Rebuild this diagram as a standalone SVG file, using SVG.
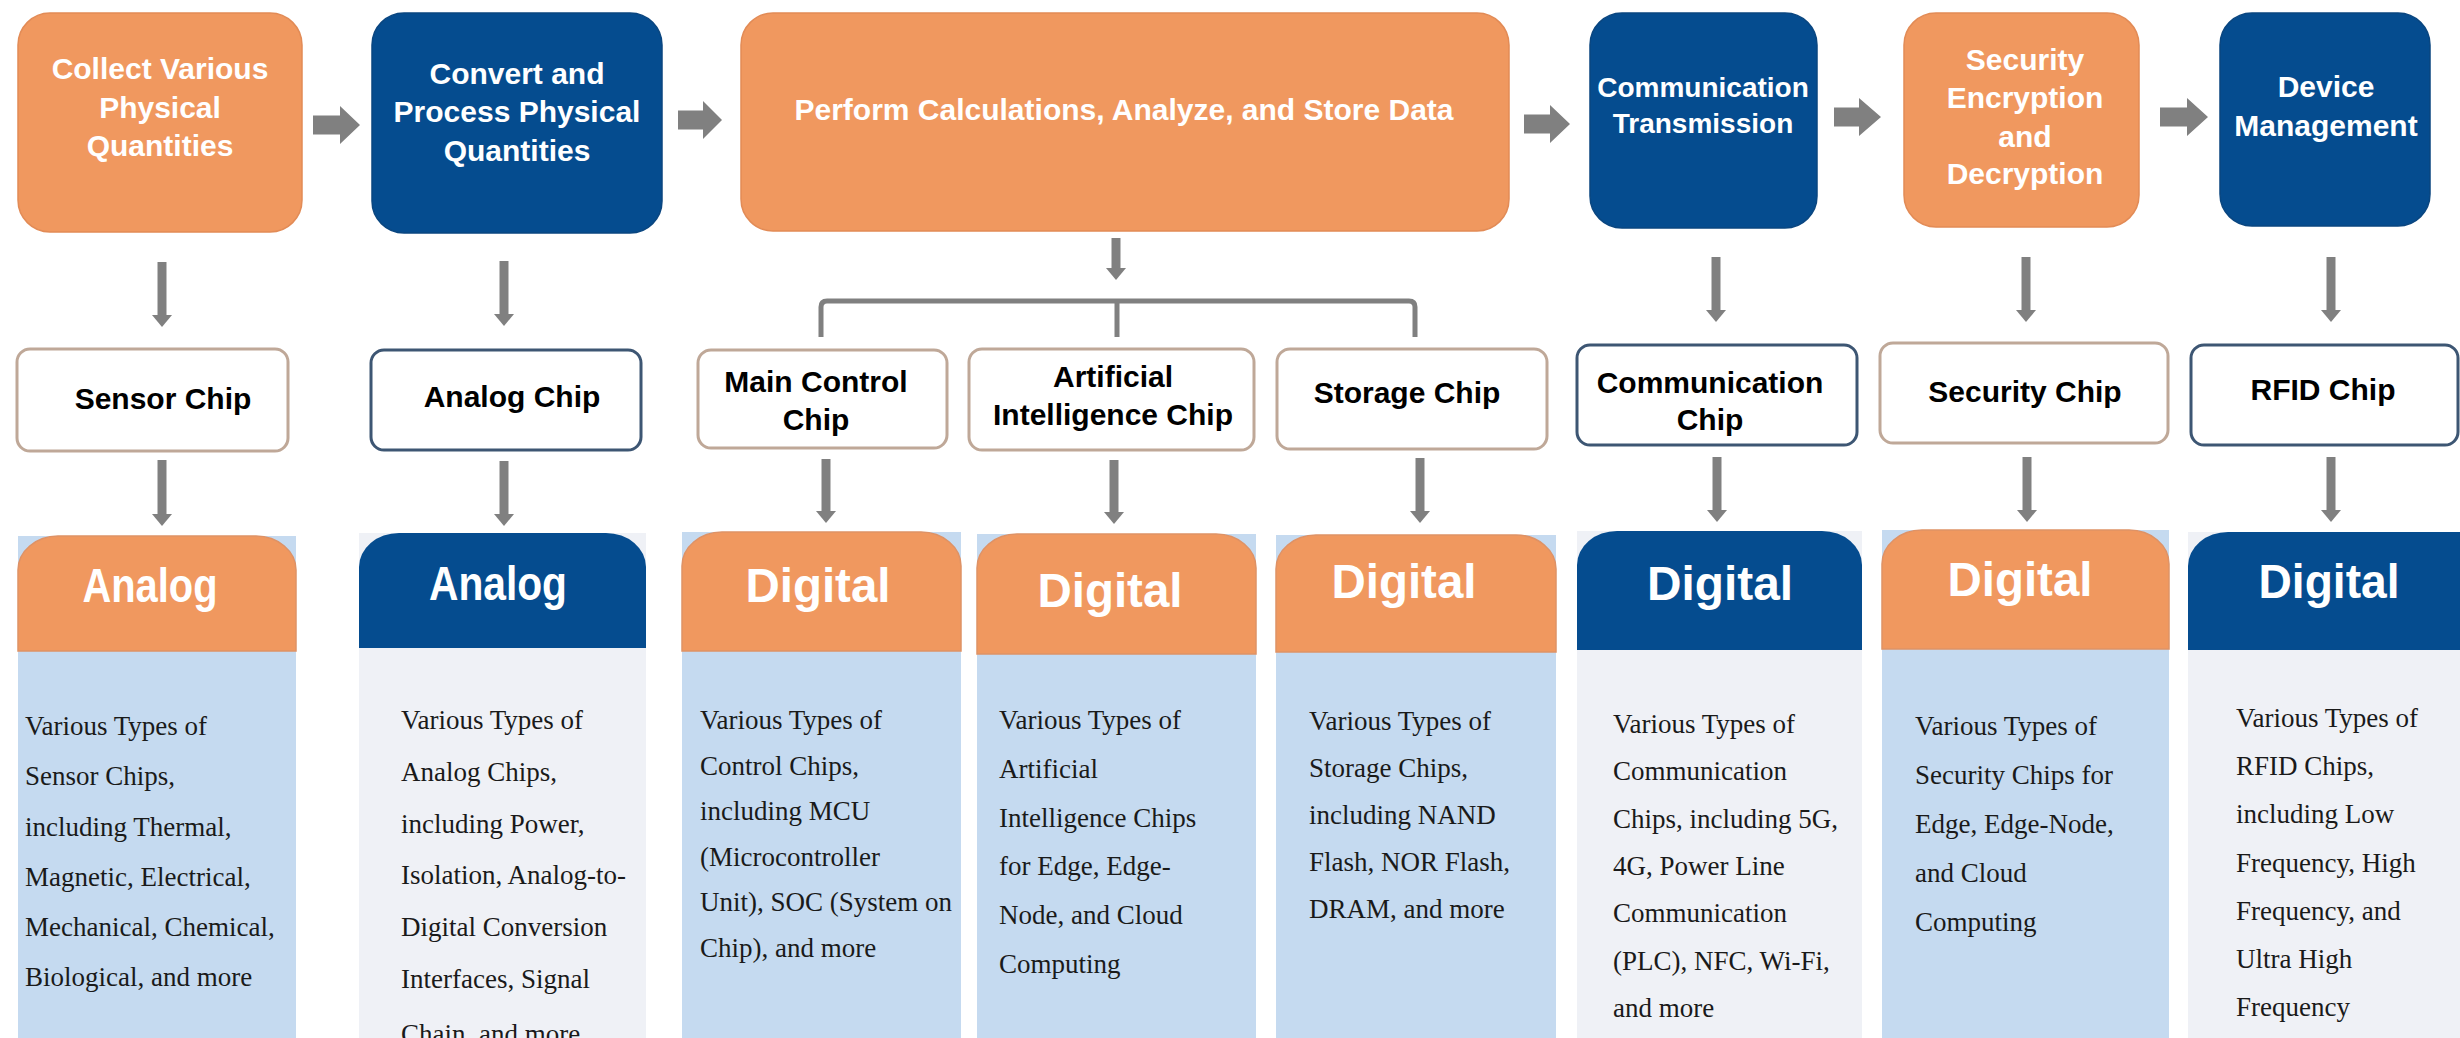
<svg xmlns="http://www.w3.org/2000/svg" width="2460" height="1038" viewBox="0 0 2460 1038">
<style>
.bg{fill:#ffffff}
.or{fill:#F0985F;stroke:#E28B56;stroke-width:1.5}
.bl{fill:#054C8F;stroke:#0A4680;stroke-width:1.5}
.tt{font-family:"Liberation Sans",Arial,sans-serif;font-weight:bold;font-size:30px;fill:#ffffff;text-anchor:middle}
.chipB{fill:#ffffff;stroke:#BFA898;stroke-width:3}
.chipU{fill:#ffffff;stroke:#3D5673;stroke-width:3}
.ct{font-family:"Liberation Sans",Arial,sans-serif;font-weight:bold;font-size:30px;fill:#000000;text-anchor:middle}
.pLB{fill:#C5DAF0}
.pGR{fill:#EFF1F6}
.hO{fill:#F0985F;stroke:#DE9266;stroke-width:1.5}
.hB{fill:#054C8F}
.ht{font-family:"Liberation Sans",Arial,sans-serif;font-weight:bold;font-size:48px;fill:#ffffff;text-anchor:middle}
.bt{font-family:"Liberation Serif","Times New Roman",serif;font-size:27px;fill:#1a1a1a}
.ar{stroke:#808080;stroke-width:9;fill:none}
.br{stroke:#808080;stroke-width:5;fill:none;stroke-linejoin:round}
.blk{fill:#808080}
</style>
<defs>
<marker id="ah" viewBox="0 0 12 20" refX="0" refY="10" markerWidth="12" markerHeight="20" markerUnits="userSpaceOnUse" orient="auto">
<path d="M0,0 L12,10 L0,20 Z" fill="#808080"/>
</marker>
</defs>
<rect class="bg" x="0" y="0" width="2460" height="1038"/>

<!-- Top process boxes -->
<g id="collect">
<rect class="or" x="18" y="13" width="284" height="219" rx="32" ry="32"/>
<text class="tt" x="160" y="79">Collect Various</text>
<text class="tt" x="160" y="118">Physical</text>
<text class="tt" x="160" y="156">Quantities</text>
</g>
<g id="convert">
<rect class="bl" x="372" y="13" width="290" height="220" rx="32" ry="32"/>
<text class="tt" x="517" y="84">Convert and</text>
<text class="tt" x="517" y="122">Process Physical</text>
<text class="tt" x="517" y="161">Quantities</text>
</g>
<g id="perform">
<rect class="or" x="741" y="13" width="768" height="218" rx="32" ry="32"/>
<text class="tt" x="1124" y="120">Perform Calculations, Analyze, and Store Data</text>
</g>
<g id="communication">
<rect class="bl" x="1590" y="13" width="227" height="215" rx="32" ry="32"/>
<text class="tt" x="1703" y="97" font-size="28" style="font-size:28px">Communication</text>
<text class="tt" x="1703" y="133" style="font-size:28px">Transmission</text>
</g>
<g id="security">
<rect class="or" x="1904" y="13" width="235" height="214" rx="32" ry="32"/>
<text class="tt" x="2025" y="70">Security</text>
<text class="tt" x="2025" y="108">Encryption</text>
<text class="tt" x="2025" y="147">and</text>
<text class="tt" x="2025" y="184">Decryption</text>
</g>
<g id="device">
<rect class="bl" x="2220" y="13" width="210" height="213" rx="32" ry="32"/>
<text class="tt" x="2326" y="97">Device</text>
<text class="tt" x="2326" y="136">Management</text>
</g>

<!-- Chip boxes -->
<g id="sensor-chip">
<rect class="chipB" x="17" y="349" width="271" height="102" rx="13"/>
<text class="ct" x="163" y="409">Sensor Chip</text>
</g>
<g id="analog-chip">
<rect class="chipU" x="371" y="350" width="270" height="100" rx="13"/>
<text class="ct" x="512" y="407">Analog Chip</text>
</g>
<g id="main-control-chip">
<rect class="chipB" x="698" y="350" width="249" height="98" rx="13"/>
<text class="ct" x="816" y="392">Main Control</text>
<text class="ct" x="816" y="430">Chip</text>
</g>
<g id="ai-chip">
<rect class="chipB" x="969" y="349" width="285" height="101" rx="13"/>
<text class="ct" x="1113" y="387">Artificial</text>
<text class="ct" x="1113" y="425">Intelligence Chip</text>
</g>
<g id="storage-chip">
<rect class="chipB" x="1277" y="349" width="270" height="100" rx="13"/>
<text class="ct" x="1407" y="403">Storage Chip</text>
</g>
<g id="communication-chip">
<rect class="chipU" x="1577" y="345" width="280" height="100" rx="13"/>
<text class="ct" x="1710" y="393">Communication</text>
<text class="ct" x="1710" y="430">Chip</text>
</g>
<g id="security-chip">
<rect class="chipB" x="1880" y="343" width="288" height="100" rx="13"/>
<text class="ct" x="2025" y="402">Security Chip</text>
</g>
<g id="rfid-chip">
<rect class="chipU" x="2191" y="345" width="267" height="100" rx="13"/>
<text class="ct" x="2323" y="400">RFID Chip</text>
</g>

<!-- Columns -->
<g id="col-sensor">
<rect class="pLB" x="18" y="536" width="278" height="502"/>
<path class="hO" d="M18,651 V570 A40 34 0 0 1 58,536 H256 A40 34 0 0 1 296,570 V651 Z"/>
<text class="ht" x="150" y="602" textLength="135" lengthAdjust="spacingAndGlyphs">Analog</text>
<text class="bt" x="25" y="735">Various Types of</text>
<text class="bt" x="25" y="785">Sensor Chips,</text>
<text class="bt" x="25" y="836">including Thermal,</text>
<text class="bt" x="25" y="886">Magnetic, Electrical,</text>
<text class="bt" x="25" y="936">Mechanical, Chemical,</text>
<text class="bt" x="25" y="986">Biological, and more</text>
</g>
<g id="col-analog">
<rect class="pGR" x="359" y="533" width="287" height="505"/>
<path class="hB" d="M359,648 V567 A40 34 0 0 1 399,533 H606 A40 34 0 0 1 646,567 V648 Z"/>
<text class="ht" x="498" y="600" textLength="138" lengthAdjust="spacingAndGlyphs">Analog</text>
<text class="bt" x="401" y="729">Various Types of</text>
<text class="bt" x="401" y="781">Analog Chips,</text>
<text class="bt" x="401" y="833">including Power,</text>
<text class="bt" x="401" y="884">Isolation, Analog-to-</text>
<text class="bt" x="401" y="936">Digital Conversion</text>
<text class="bt" x="401" y="988">Interfaces, Signal</text>
<text class="bt" x="401" y="1043">Chain, and more</text>
</g>
<g id="col-control">
<rect class="pLB" x="682" y="532" width="279" height="506"/>
<path class="hO" d="M682,651 V566 A40 34 0 0 1 722,532 H921 A40 34 0 0 1 961,566 V651 Z"/>
<text class="ht" x="818" y="602" textLength="145" lengthAdjust="spacingAndGlyphs">Digital</text>
<text class="bt" x="700" y="729">Various Types of</text>
<text class="bt" x="700" y="775">Control Chips,</text>
<text class="bt" x="700" y="820">including MCU</text>
<text class="bt" x="700" y="866">(Microcontroller</text>
<text class="bt" x="700" y="911">Unit), SOC (System on</text>
<text class="bt" x="700" y="957">Chip), and more</text>
</g>
<g id="col-ai">
<rect class="pLB" x="977" y="534" width="279" height="504"/>
<path class="hO" d="M977,654 V568 A40 34 0 0 1 1017,534 H1216 A40 34 0 0 1 1256,568 V654 Z"/>
<text class="ht" x="1110" y="607" textLength="145" lengthAdjust="spacingAndGlyphs">Digital</text>
<text class="bt" x="999" y="729">Various Types of</text>
<text class="bt" x="999" y="778">Artificial</text>
<text class="bt" x="999" y="827">Intelligence Chips</text>
<text class="bt" x="999" y="875">for Edge, Edge-</text>
<text class="bt" x="999" y="924">Node, and Cloud</text>
<text class="bt" x="999" y="973">Computing</text>
</g>
<g id="col-storage">
<rect class="pLB" x="1276" y="535" width="280" height="503"/>
<path class="hO" d="M1276,652 V569 A40 34 0 0 1 1316,535 H1516 A40 34 0 0 1 1556,569 V652 Z"/>
<text class="ht" x="1404" y="598" textLength="145" lengthAdjust="spacingAndGlyphs">Digital</text>
<text class="bt" x="1309" y="730">Various Types of</text>
<text class="bt" x="1309" y="777">Storage Chips,</text>
<text class="bt" x="1309" y="824">including NAND</text>
<text class="bt" x="1309" y="871">Flash, NOR Flash,</text>
<text class="bt" x="1309" y="918">DRAM, and more</text>
</g>
<g id="col-communication">
<rect class="pGR" x="1577" y="531" width="285" height="507"/>
<path class="hB" d="M1577,650 V565 A40 34 0 0 1 1617,531 H1822 A40 34 0 0 1 1862,565 V650 Z"/>
<text class="ht" x="1720" y="600" textLength="146" lengthAdjust="spacingAndGlyphs">Digital</text>
<text class="bt" x="1613" y="733">Various Types of</text>
<text class="bt" x="1613" y="780">Communication</text>
<text class="bt" x="1613" y="828">Chips, including 5G,</text>
<text class="bt" x="1613" y="875">4G, Power Line</text>
<text class="bt" x="1613" y="922">Communication</text>
<text class="bt" x="1613" y="970">(PLC), NFC, Wi-Fi,</text>
<text class="bt" x="1613" y="1017">and more</text>
</g>
<g id="col-security">
<rect class="pLB" x="1882" y="530" width="287" height="508"/>
<path class="hO" d="M1882,649 V564 A40 34 0 0 1 1922,530 H2129 A40 34 0 0 1 2169,564 V649 Z"/>
<text class="ht" x="2020" y="596" textLength="145" lengthAdjust="spacingAndGlyphs">Digital</text>
<text class="bt" x="1915" y="735">Various Types of</text>
<text class="bt" x="1915" y="784">Security Chips for</text>
<text class="bt" x="1915" y="833">Edge, Edge-Node,</text>
<text class="bt" x="1915" y="882">and Cloud</text>
<text class="bt" x="1915" y="931">Computing</text>
</g>
<g id="col-rfid">
<rect class="pGR" x="2188" y="532" width="272" height="506"/>
<path class="hB" d="M2188,650 V566 A40 34 0 0 1 2228,532 H2460 V650 Z"/>
<text class="ht" x="2329" y="598" textLength="141" lengthAdjust="spacingAndGlyphs">Digital</text>
<text class="bt" x="2236" y="727">Various Types of</text>
<text class="bt" x="2236" y="775">RFID Chips,</text>
<text class="bt" x="2236" y="823">including Low</text>
<text class="bt" x="2236" y="872">Frequency, High</text>
<text class="bt" x="2236" y="920">Frequency, and</text>
<text class="bt" x="2236" y="968">Ultra High</text>
<text class="bt" x="2236" y="1016">Frequency</text>
</g>

<!-- Connectors -->
<g id="connectors">
<path class="blk" d="M313,115.5 H340 V106 L360,125 L340,144 V134.5 H313 Z"/>
<path class="blk" d="M678,110.5 H703 V101 L722,120 L703,139 V129.5 H678 Z"/>
<path class="blk" d="M1524,114.5 H1550 V105 L1570,124 L1550,143 V133.5 H1524 Z"/>
<path class="blk" d="M1834,107.5 H1859 V98 L1881,117 L1859,136 V126.5 H1834 Z"/>
<path class="blk" d="M2160,107.5 H2187 V98 L2208,117 L2187,136 V126.5 H2160 Z"/>

<line class="ar" x1="162" y1="262" x2="162" y2="315" marker-end="url(#ah)"/>
<line class="ar" x1="504" y1="261" x2="504" y2="314" marker-end="url(#ah)"/>
<line class="ar" x1="1116" y1="238" x2="1116" y2="268" marker-end="url(#ah)"/>
<line class="ar" x1="1716" y1="257" x2="1716" y2="310" marker-end="url(#ah)"/>
<line class="ar" x1="2026" y1="257" x2="2026" y2="310" marker-end="url(#ah)"/>
<line class="ar" x1="2331" y1="257" x2="2331" y2="310" marker-end="url(#ah)"/>

<path class="br" d="M821,337 V307 Q821,301 827,301 H1409 Q1415,301 1415,307 V337 M1117,301 V337"/>

<line class="ar" x1="162" y1="460" x2="162" y2="514" marker-end="url(#ah)"/>
<line class="ar" x1="504" y1="461" x2="504" y2="514" marker-end="url(#ah)"/>
<line class="ar" x1="826" y1="459" x2="826" y2="511" marker-end="url(#ah)"/>
<line class="ar" x1="1114" y1="460" x2="1114" y2="512" marker-end="url(#ah)"/>
<line class="ar" x1="1420" y1="458" x2="1420" y2="511" marker-end="url(#ah)"/>
<line class="ar" x1="1717" y1="457" x2="1717" y2="510" marker-end="url(#ah)"/>
<line class="ar" x1="2027" y1="457" x2="2027" y2="510" marker-end="url(#ah)"/>
<line class="ar" x1="2331" y1="457" x2="2331" y2="510" marker-end="url(#ah)"/>
</g>
</svg>
